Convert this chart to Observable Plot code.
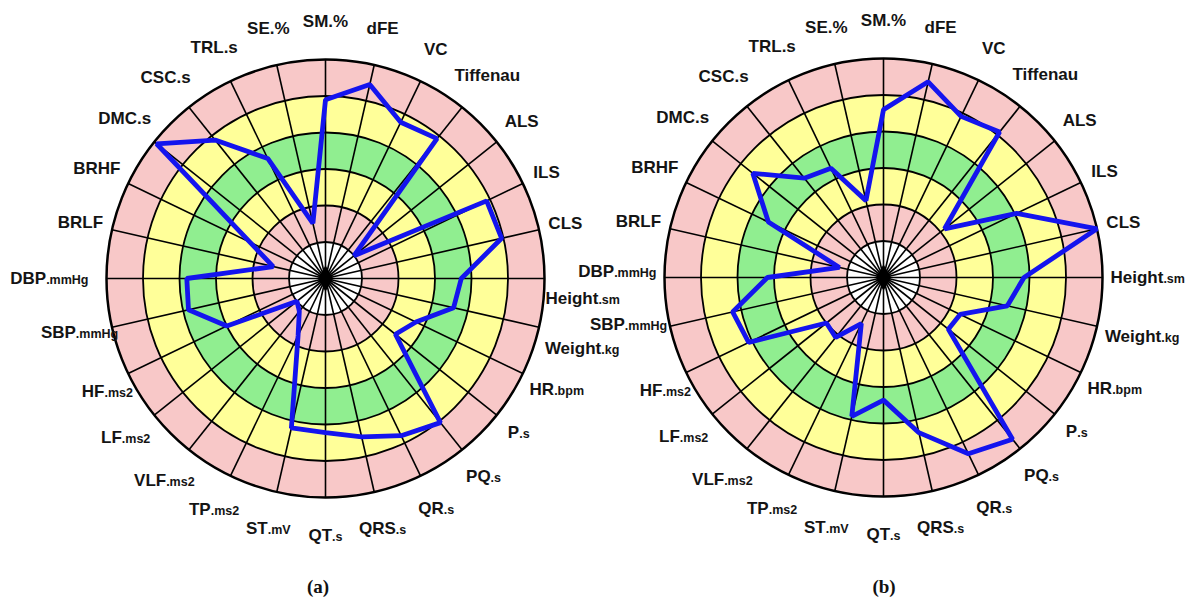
<!DOCTYPE html>
<html><head><meta charset="utf-8">
<script src="https://cdn.jsdelivr.net/npm/d3@7"></script>
<script src="https://cdn.jsdelivr.net/npm/@observablehq/plot@0.6"></script>
<style>
body{margin:0;background:#fff;width:1189px;height:603px;overflow:hidden;position:relative;font-family:"Liberation Sans",Arial,sans-serif}
.panel{position:absolute}
.cap{position:absolute;font-family:"Liberation Serif","Times New Roman",serif;font-weight:bold;font-size:19px;transform:translateX(-50%);color:#111}
</style></head><body>
<div id="pa" class="panel" style="left:45px;top:0px"></div>
<div id="pb" class="panel" style="left:603px;top:-1px"></div>
<div class="cap" style="left:318px;top:576px">(a)</div>
<div class="cap" style="left:884px;top:576px">(b)</div>
<script>
// Axis names (clockwise from top) and small unit suffixes
const axisNames = ["SM.%","dFE","VC","Tiffenau","ALS","ILS","CLS","Height","Weight","HR","P","PQ","QR","QRS","QT","ST","TP","VLF","LF","HF","SBP","DBP","BRLF","BRHF","DMC.s","CSC.s","TRL.s","SE.%"];
const axisUnits = ["","","","","","","",".sm",".kg",".bpm",".s",".s",".s",".s",".s",".mV",".ms2",".ms2",".ms2",".ms2",".mmHg",".mmHg","","","","","",""];
// Values in ring units (0 = centre, 6 = outer edge)
const seriesA = [4.9,5.45,4.75,4.9,1.0,4.9,4.95,3.72,3.6,2.75,2.45,5.05,4.78,4.45,4.22,4.2,1.73,1.15,1.0,3.0,3.85,3.8,1.47,2.3,5.92,4.85,3.65,1.55];
const seriesB = [4.6,5.5,4.9,5.1,2.14,4.05,6.0,3.85,3.48,2.33,2.27,5.67,5.36,4.36,3.36,3.9,1.4,2.1,2.0,4.1,4.24,3.18,1.24,3.5,4.58,3.48,3.32,2.16];
// Ring levels and band colours (band between level-1 and level)
const ringLevels = [1,2,3,4,5,6];
const bandColors = ["#ffffff","#f8c8c8","#ffff99","#90ee90","#ffff99","#f8c8c8"];

const U = 36.5, W = 560, H = 556, N = axisNames.length, RMAX = 6;
const ang = i => i * 2 * Math.PI / N;
const ctx = document.createElement("canvas").getContext("2d");
function textW(main, unit) {
  ctx.font = "bold 17px 'Liberation Sans'";
  let w = ctx.measureText(main).width;
  ctx.font = "bold 12.5px 'Liberation Sans'";
  return w + ctx.measureText(unit).width;
}
// label layout nudges in pixels (avoid the two panels' labels colliding)
const nudgeA = {7: [-7, 20], 8: [-2, 11], 19: [12, 2], 20: [14, -5], 21: [-10, 0]};
const nudgeB = {19: [12, 2], 20: [5, -12], 21: [0, -6]};
function radar(values, nudge) {
  const pts = values.map((v, i) => ({x: v * Math.sin(ang(i)), y: v * Math.cos(ang(i))}));
  const spokes = axisNames.map((n, i) => ({x2: RMAX * Math.sin(ang(i)), y2: RMAX * Math.cos(ang(i))}));
  const discs = ringLevels.map(r => ({r, fill: bandColors[r - 1]}));
  const labels = axisNames.map((n, i) => {
    const t = ang(i), s = Math.sin(t), c = Math.cos(t);
    const hw = textW(n, axisUnits[i]) / 2;
    const rp = RMAX * U + 8 + 22 * c * c + hw * s * s + 8 * Math.abs(c);
    const [dx, dy] = nudge[i] || [0, 0];
    return {x: (rp * s + dx) / U, y: (rp * c - dy) / U, name: n};
  });
  const svg = Plot.plot({
    width: W, height: H, margin: 0,
    style: {overflow: "visible", background: "transparent"},
    x: {domain: [-W / 2 / U, W / 2 / U], axis: null},
    y: {domain: [-H / 2 / U, H / 2 / U], axis: null},
    r: {type: "linear", domain: [0, RMAX], range: [0, RMAX * U]},
    color: {type: "identity"},
    marks: [
      Plot.dot(discs, {x: () => 0, y: () => 0, r: "r", fill: "fill", stroke: "none", sort: {channel: "-r"}}),
      Plot.link(spokes, {x1: 0, y1: 0, x2: "x2", y2: "y2", stroke: "#000", strokeWidth: 1.6}),
      Plot.dot(ringLevels, {x: () => 0, y: () => 0, r: d => d, fill: "none", stroke: "#000", strokeWidth: d => d === RMAX ? 2.5 : 1.8}),
      Plot.dot([0], {x: () => 0, y: () => 0, r: 8, symbol: "diamond", fill: "#000", stroke: "none"}),
      Plot.line(pts, {x: "x", y: "y", curve: "linear-closed", stroke: "#1414ee", strokeWidth: 4.8, strokeLinejoin: "miter"}),
      Plot.text(labels, {x: "x", y: "y", text: "name", fontSize: 17, fontWeight: "bold", fontFamily: "'Liberation Sans', Arial, sans-serif", fill: "#141414", textAnchor: "middle"})
    ]
  });
  const groups = svg.querySelectorAll('g[aria-label="text"]');
  const texts = groups[groups.length - 1].querySelectorAll("text");
  texts.forEach((t, i) => {
    if (axisUnits[i]) {
      const ts = document.createElementNS("http://www.w3.org/2000/svg", "tspan");
      ts.setAttribute("font-size", "12.5");
      ts.textContent = axisUnits[i];
      t.appendChild(ts);
    }
  });
  return svg;
}
document.getElementById("pa").appendChild(radar(seriesA, nudgeA));
document.getElementById("pb").appendChild(radar(seriesB, nudgeB));
</script>
</body></html>
